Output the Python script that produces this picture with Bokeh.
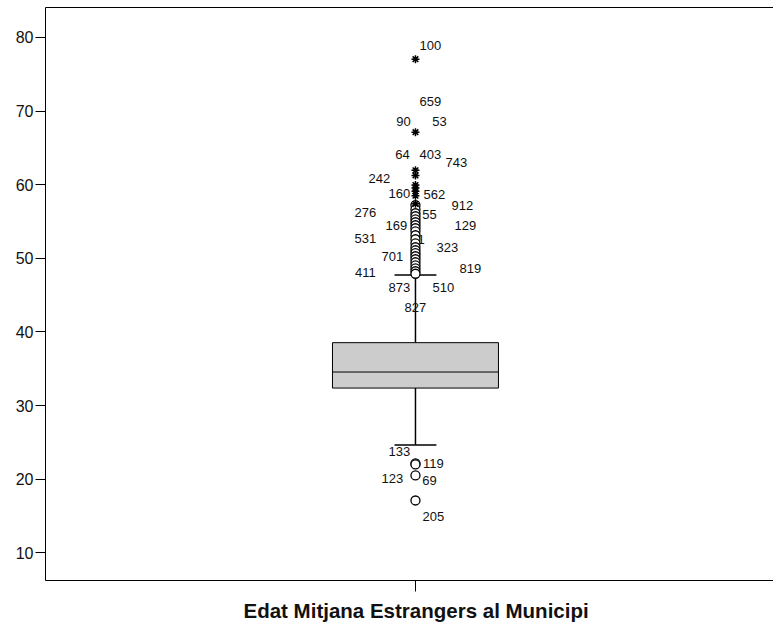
from bokeh.plotting import figure
from bokeh.models import Range1d, FixedTicker, LinearAxis, ColumnDataSource, Title
from bokeh.embed import file_html
from bokeh.resources import INLINE
from bokeh.core.properties import value

# ---------------- data ----------------
variable = "Edat Mitjana Estrangers al Municipi"
y_ticks = [10, 20, 30, 40, 50, 60, 70, 80]

q1 = 32.37
median = 34.55
q3 = 38.54
whisker_low = 24.63
whisker_high = 47.72

# mild outliers (circles)
outliers_high = [57.21, 56.66, 56.12, 55.71, 55.30, 54.90, 54.49, 54.08, 53.67,
                 53.13, 52.59, 52.04, 51.50, 51.09, 50.69, 50.28, 49.87, 49.46,
                 49.05, 48.64, 48.24, 47.90]
outliers_low = [22.13, 22.0, 20.5, 17.1]

# extreme values (asterisks)
extremes = [77.05, 67.13, 61.95, 61.25, 59.95, 59.55, 59.10, 58.50, 57.40]

# case labels: text, vertical position (data units), horizontal offset (px)
label_text = ["100", "659", "90", "53", "64", "403", "743", "242", "160", "562",
              "912", "276", "55", "169", "129", "531", "51", "323", "701", "411",
              "819", "873", "510", "827", "133", "119", "123", "69", "205"]
label_value = [78.96, 71.35, 68.61, 68.61, 64.05, 64.14, 63.05, 60.90, 58.84, 58.70,
               57.15, 56.20, 55.99, 54.45, 54.45, 52.70, 52.59, 51.50, 50.28, 48.10,
               48.64, 46.00, 46.00, 43.34, 23.77, 22.13, 20.05, 19.85, 14.95]
label_dx = [15, 15, -12, 24, -13, 15, 41, -36, -16, 19,
            47, -50, 14, -19, 50, -50, 2, 32, -23, -50,
            55, -16, 28, 0, -16, 18, -23, 14, 18]

# ---------------- layout ----------------
pos = 1.0
W = 2.0
start = pos - 0.5082 * W
box_w = 0.456
cap_w = 0.115

FONT = "Liberation Sans"

p = figure(width=773, height=626, output_backend="svg", toolbar_location=None,
           x_range=Range1d(start, start + W), y_range=Range1d(6.23, 84.07),
           min_border_left=45, min_border_right=0, min_border_top=7,
           min_border_bottom=0)
p.outline_line_color = None
p.background_fill_color = "white"
p.border_fill_color = "white"
p.xgrid.visible = False
p.ygrid.visible = False

# y axis
ya = p.yaxis[0]
ya.ticker = FixedTicker(ticks=y_ticks)
ya.minor_tick_line_color = None
ya.major_tick_out = 10
ya.major_tick_in = 0
ya.major_label_standoff = 2
ya.major_label_text_font = FONT
ya.major_label_text_font_size = "16px"
ya.major_label_text_color = "#111111"
ya.axis_line_color = "black"
ya.major_tick_line_color = "black"

# x axis
xa = p.xaxis[0]
xa.ticker = FixedTicker(ticks=[pos])
xa.minor_tick_line_color = None
xa.major_tick_out = 11
xa.major_tick_in = 0
xa.major_label_text_font_size = "0px"
xa.major_label_text_color = None
xa.major_label_standoff = 0
xa.axis_label = None

# variable name below the axis
p.add_layout(Title(text=variable, align="left", offset=198, standoff=10,
                   text_font=FONT, text_font_size="20.5px", text_font_style="bold",
                   text_color="#111111"), "below")

# top frame line
top = LinearAxis(ticker=FixedTicker(ticks=[]), major_tick_out=0, major_tick_in=0,
                 minor_tick_out=0, minor_tick_in=0, major_label_text_font_size="0px",
                 major_label_text_color=None, axis_label=None,
                 major_label_standoff=0, axis_line_color="black")
p.add_layout(top, "above")

# whiskers
p.segment(x0=[pos, pos], y0=[q3, q1], x1=[pos, pos], y1=[whisker_high, whisker_low],
          line_color="black", line_width=1.5)
p.segment(x0=[pos - cap_w / 2] * 2, y0=[whisker_high, whisker_low],
          x1=[pos + cap_w / 2] * 2, y1=[whisker_high, whisker_low],
          line_color="black", line_width=1.5)

# box
p.vbar(x=[pos], bottom=[q1], top=[q3], width=box_w, fill_color="#cccccc",
       line_color="black", line_width=1)
p.segment(x0=[pos - box_w / 2], y0=[median], x1=[pos + box_w / 2], y1=[median],
          line_color="black", line_width=1)

# labels
lab = ColumnDataSource(dict(x=[pos] * len(label_text), y=label_value,
                            text=label_text, dx=label_dx))
p.text(x="x", y="y", text="text", x_offset="dx", source=lab,
       text_font=value(FONT), text_font_size="13px", text_color="#111111",
       text_align="center", text_baseline="middle")

# outliers
outs = outliers_high + outliers_low
p.scatter(x=[pos] * len(outs), y=outs, marker="circle", size=9,
          fill_color="white", line_color="black", line_width=1.3)
p.scatter(x=[pos] * len(extremes), y=extremes, marker="asterisk", size=8,
          line_color="black", line_width=1.5)

open("out.html", "w").write(file_html(p, INLINE))
